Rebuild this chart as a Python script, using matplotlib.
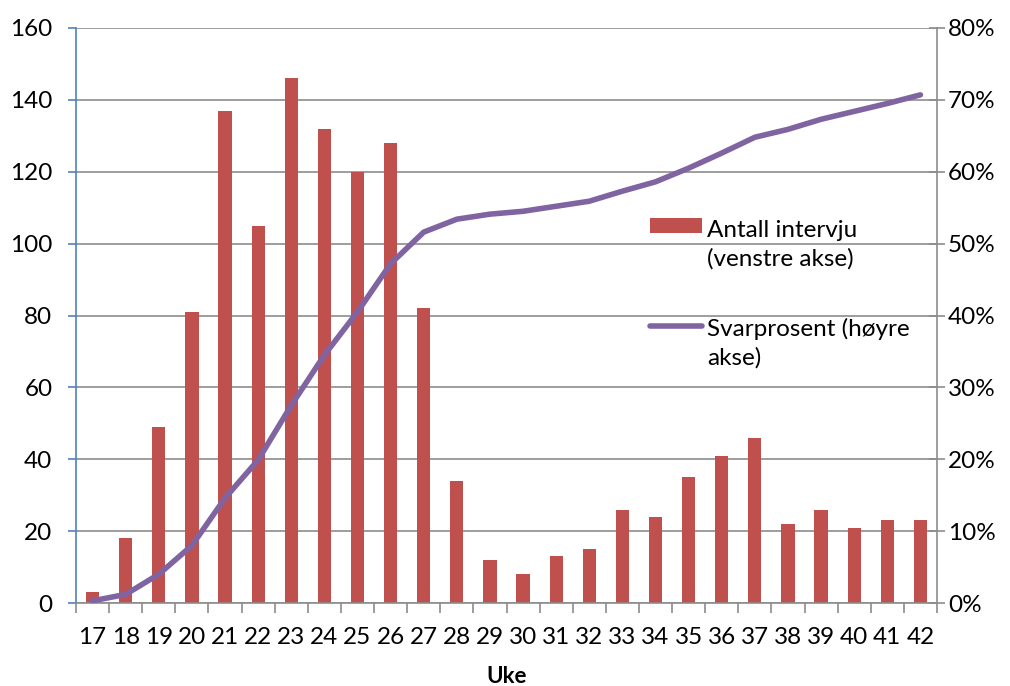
import matplotlib
matplotlib.use("Agg")
import matplotlib.pyplot as plt
from matplotlib.lines import Line2D
from matplotlib.patches import Rectangle
from matplotlib.ticker import FuncFormatter, MultipleLocator

plt.rcParams["font.family"] = ["Lato", "DejaVu Sans"]

weeks = [str(w) for w in range(17, 43)]
interviews = [3, 18, 49, 81, 137, 105, 146, 132, 120, 128, 82, 34, 12, 8,
              13, 15, 26, 24, 35, 41, 46, 22, 26, 21, 23, 23]
response_pct = [0.3, 1.2, 4.0, 8.0, 14.6, 19.9, 27.5, 34.5, 40.5, 47.2, 51.6,
                53.4, 54.1, 54.5, 55.2, 55.9, 57.3, 58.6, 60.5, 62.6, 64.8,
                65.9, 67.3, 68.4, 69.5, 70.7]
bar_label = "Antall intervju\n(venstre akse)"
line_label = "Svarprosent (høyre\nakse)"

bar_color = "#C0504D"
line_color = "#8064A2"
grid_color = "#8C8C8C"
fs = 17.5
W, H = 1010, 686

fig = plt.figure(figsize=(W / 100, H / 100), dpi=100)
ax = fig.add_axes([76 / W, 1 - 603 / H, (937 - 76) / W, (603 - 28) / H])
x = list(range(len(weeks)))

ax.bar(x, interviews, width=0.4, color=bar_color, zorder=2)
ax.set_xlim(-0.5, len(weeks) - 0.5)
ax.set_ylim(0, 160)
ax.yaxis.set_major_locator(MultipleLocator(20))
ax.grid(axis="y", color=grid_color, linewidth=1.2, zorder=0)
ax.set_axisbelow(True)

ax.set_xticks(x)
ax.set_xticklabels(weeks)
ax.set_xticks([i - 0.5 for i in range(len(weeks) + 1)], minor=True)
ax.tick_params(axis="x", which="major", length=0, pad=17, labelsize=fs)
ax.tick_params(axis="x", which="minor", length=7, width=1.2, color=grid_color, direction="out")
ax.tick_params(axis="y", length=6, width=1.2, color="#4F81BD", labelsize=fs, pad=11)

for s in ["top", "right"]:
    ax.spines[s].set_visible(False)
ax.spines["left"].set_color("#4F81BD")
ax.spines["left"].set_linewidth(1.2)
ax.spines["bottom"].set_color(grid_color)
ax.spines["bottom"].set_linewidth(1.2)

ax2 = ax.twinx()
ax2.plot(x, response_pct, color=line_color, linewidth=4, solid_capstyle="round", zorder=3)
ax2.set_ylim(0, 80)
ax2.yaxis.set_major_locator(MultipleLocator(10))
ax2.yaxis.set_major_formatter(FuncFormatter(lambda v, p: f"{v:.0f}%"))
ax2.tick_params(axis="y", length=12, width=1.2, color=grid_color, direction="inout",
                labelsize=fs, pad=2)
for s in ["top", "left", "bottom"]:
    ax2.spines[s].set_visible(False)
ax2.spines["right"].set_color(grid_color)
ax2.spines["right"].set_linewidth(1.2)

ax.set_xlabel("Uke", fontsize=16, fontweight="bold", labelpad=13)

# legend (handles line up with the first text line, like the original)
tf = fig.transFigure
fig.add_artist(Rectangle((650 / W, 1 - 233 / H), 52 / W, 15 / H, transform=tf,
                         facecolor=bar_color, edgecolor="none"))
fig.add_artist(Line2D([650 / W, 702 / W], [1 - 326 / H, 1 - 326 / H], transform=tf,
                      color=line_color, linewidth=4, solid_capstyle="round"))
fig.text(707 / W, 1 - 220 / H, bar_label, fontsize=fs, va="top", ha="left", linespacing=1.4)
fig.text(707 / W, 1 - 318 / H, line_label, fontsize=fs, va="top", ha="left", linespacing=1.4)

fig.savefig("out.png", dpi=100)
